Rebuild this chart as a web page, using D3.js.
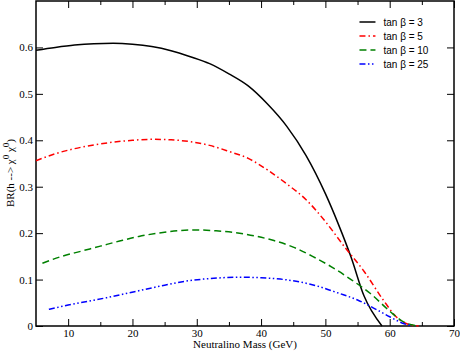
<!DOCTYPE html>
<html>
<head>
<meta charset="utf-8">
<script src="https://cdn.jsdelivr.net/npm/d3@7"></script>
<style>
  body { margin: 0; background: #fff; }
  svg { display: block; }
  .serif { font-family: "Liberation Serif", "DejaVu Serif", serif; }
  .sans { font-family: "Liberation Sans", "DejaVu Sans", sans-serif; }
</style>
</head>
<body>
<div id="chart-container"></div>
<script>
// neutralino mass (GeV) and branching ratio for each tan beta
const mass3 = [5, 8, 11, 14, 17, 20, 23, 26, 29, 32, 35, 38, 41, 44, 47, 50, 52, 54, 56, 58.8];
const br3 = [0.594, 0.600, 0.605, 0.608, 0.609, 0.607, 0.602, 0.593, 0.580, 0.565, 0.543, 0.517, 0.478, 0.430, 0.367, 0.285, 0.220, 0.148, 0.065, 0];

const mass5 = [5, 8, 11, 14, 17, 20, 23, 26, 29, 32, 35, 38, 41, 44, 47, 50, 53, 56, 59, 61, 63, 64.5];
const br5 = [0.356, 0.371, 0.382, 0.390, 0.396, 0.400, 0.402, 0.401, 0.397, 0.389, 0.376, 0.361, 0.336, 0.306, 0.272, 0.225, 0.170, 0.118, 0.056, 0.020, 0.003, 0];

const mass10 = [6, 9, 12, 15, 18, 21, 24, 27, 30, 33, 36, 39, 42, 45, 48, 51, 54, 57, 60, 62, 64.5];
const br10 = [0.135, 0.150, 0.161, 0.172, 0.183, 0.193, 0.200, 0.205, 0.207, 0.205, 0.201, 0.194, 0.184, 0.170, 0.150, 0.127, 0.100, 0.070, 0.032, 0.010, 0];

const mass25 = [7, 10, 13, 16, 19, 22, 25, 28, 31, 34, 37, 40, 43, 46, 49, 52, 55, 58, 60, 62, 63.5];
const br25 = [0.036, 0.045, 0.053, 0.061, 0.070, 0.079, 0.088, 0.096, 0.101, 0.104, 0.105, 0.104, 0.101, 0.095, 0.085, 0.071, 0.056, 0.035, 0.020, 0.006, 0];

const seriesNames = ["tan \u03B2 = 3", "tan \u03B2 = 5", "tan \u03B2 = 10", "tan \u03B2 = 25"];
const xTicks = [10, 20, 30, 40, 50, 60, 70];
const xMinorTicks = [15, 25, 35, 45, 55, 65];
const yTicks = [0, 0.1, 0.2, 0.3, 0.4, 0.5, 0.6];

const series = [
  {name: seriesNames[0], x: mass3, y: br3, color: "#000000", dash: null},
  {name: seriesNames[1], x: mass5, y: br5, color: "#ff0000", dash: "6,3,1.5,3"},
  {name: seriesNames[2], x: mass10, y: br10, color: "#008000", dash: "7,4"},
  {name: seriesNames[3], x: mass25, y: br25, color: "#0000ff", dash: "6,2.5,1.5,2.5,1.5,2.5"}
];

const margin = {top: 1, right: 6, bottom: 25, left: 36},
      width = 460 - margin.left - margin.right,
      height = 351 - margin.top - margin.bottom;

const svg = d3.select("#chart-container").append("svg")
    .attr("width", 460)
    .attr("height", 351)
    .append("g")
    .attr("transform", `translate(${margin.left}, ${margin.top})`);

const x = d3.scaleLinear().domain([5, 70]).range([0, width]);
const y = d3.scaleLinear().domain([0, 0.7]).range([height, 0]);

// ticks, all pointing inward
function drawTicks(sel) {
  sel.attr("font-family", null).attr("font-size", null);
  sel.selectAll("path.domain").remove();
  sel.selectAll("line").attr("stroke", "#000").attr("stroke-width", 1);
  sel.selectAll("text").attr("class", "serif").style("font-size", "11px").attr("fill", "#000");
}

svg.append("g")
    .attr("transform", `translate(0, ${height})`)
    .call(d3.axisBottom(x).tickValues(xTicks).tickSizeInner(-7).tickSizeOuter(0).tickFormat(d3.format("d")))
    .call(drawTicks)
    .selectAll("text").attr("dy", "0.71em").attr("y", 3);

svg.append("g")
    .attr("transform", `translate(0, ${height})`)
    .call(d3.axisBottom(x).tickValues(xMinorTicks).tickSizeInner(-4).tickSizeOuter(0).tickFormat(""))
    .call(drawTicks);

svg.append("g")
    .call(d3.axisTop(x).tickValues(xTicks).tickSizeInner(-7).tickSizeOuter(0).tickFormat(""))
    .call(drawTicks);

svg.append("g")
    .call(d3.axisTop(x).tickValues(xMinorTicks).tickSizeInner(-4).tickSizeOuter(0).tickFormat(""))
    .call(drawTicks);

svg.append("g")
    .call(d3.axisLeft(y).tickValues(yTicks).tickSizeInner(-7).tickSizeOuter(0)
      .tickFormat(d => d === 0 ? "0" : d3.format(".1f")(d)))
    .call(drawTicks)
    .selectAll("text").attr("x", -3);

svg.append("g")
    .attr("transform", `translate(${width}, 0)`)
    .call(d3.axisRight(y).tickValues(yTicks).tickSizeInner(-7).tickSizeOuter(0).tickFormat(""))
    .call(drawTicks);

// frame
svg.append("rect")
    .attr("x", 0).attr("y", 0)
    .attr("width", width).attr("height", height)
    .attr("fill", "none")
    .attr("stroke", "#000")
    .attr("stroke-width", 1.5);

// curves
const line = d3.line()
    .x(d => x(d[0]))
    .y(d => y(d[1]))
    .curve(d3.curveMonotoneX);

series.forEach(s => {
  svg.append("path")
      .datum(s.x.map((v, i) => [v, s.y[i]]))
      .attr("d", line)
      .attr("fill", "none")
      .attr("stroke", s.color)
      .attr("stroke-width", 1.5)
      .attr("stroke-dasharray", s.dash);
});

// legend
const legend = svg.append("g").attr("transform", `translate(${x(55.3)}, 21)`);
series.forEach((s, i) => {
  const g = legend.append("g").attr("transform", `translate(0, ${i * 14})`);
  g.append("line")
      .attr("x1", 0).attr("x2", 16)
      .attr("stroke", s.color)
      .attr("stroke-width", 1.5)
      .attr("stroke-dasharray", s.dash);
  g.append("text")
      .attr("class", "sans")
      .attr("x", 24).attr("dy", "0.35em")
      .style("font-size", "10px")
      .text(s.name);
});

// axis labels
svg.append("text")
    .attr("class", "serif")
    .attr("text-anchor", "middle")
    .attr("x", width / 2)
    .attr("y", height + 22)
    .style("font-size", "11px")
    .text("Neutralino Mass (GeV)");

const yLabel = svg.append("text")
    .attr("class", "serif")
    .attr("transform", "rotate(-90)")
    .attr("x", -172)
    .attr("y", -22)
    .attr("text-anchor", "middle")
    .style("font-size", "11px");
yLabel.append("tspan").text("BR(h --> \u03C7");
yLabel.append("tspan").style("font-size", "9px").attr("dy", -5).text("0");
yLabel.append("tspan").attr("dy", 5).text(" \u03C7");
yLabel.append("tspan").style("font-size", "9px").attr("dy", -5).text("0");
yLabel.append("tspan").attr("dy", 5).text(")");
</script>
</body>
</html>
